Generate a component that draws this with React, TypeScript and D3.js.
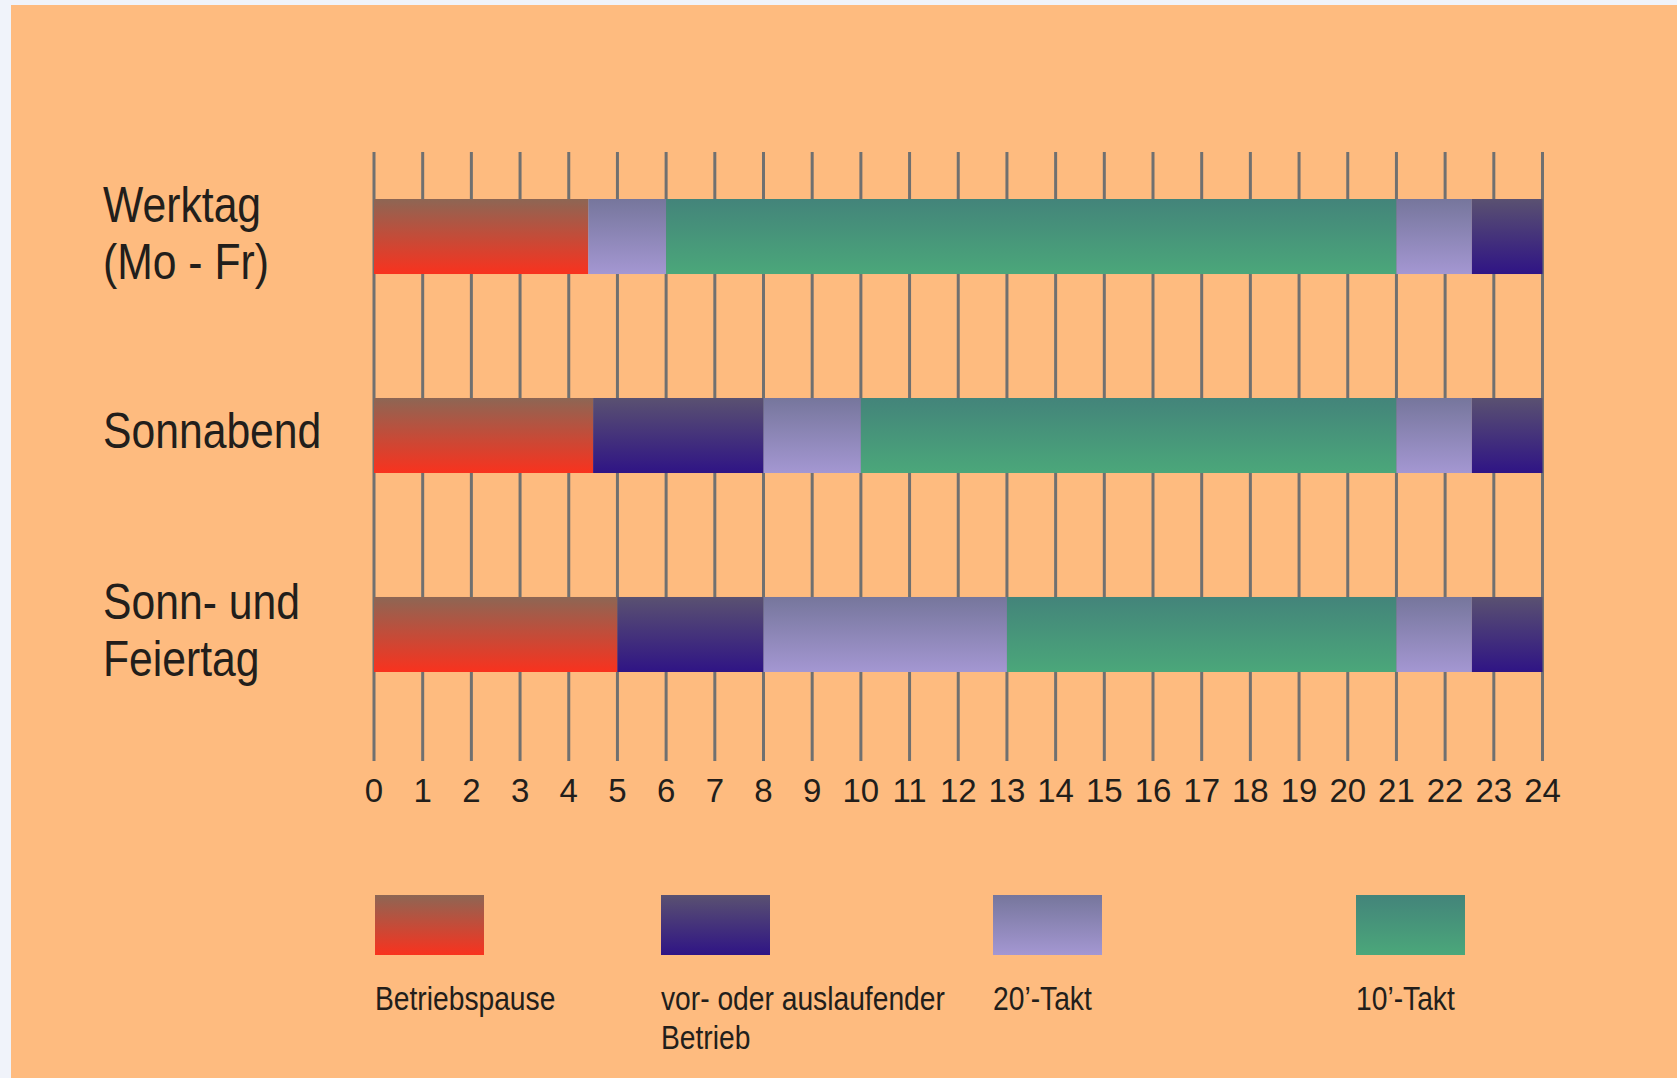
import React from "react";
import { scaleLinear, scaleBand, range } from "d3";

// hours on the time axis
const hours = range(0, 25);

// the three kinds of day
const dayKeys = ["werktag", "sonnabend", "sonntag"];
const dayLabels = [["Werktag", "(Mo - Fr)"], ["Sonnabend"], ["Sonn- und", "Feiertag"]];

// service kinds (legend)
const kindNames = [["Betriebspause"], ["vor- oder auslaufender", "Betrieb"], ["20\u2019-Takt"], ["10\u2019-Takt"]];
const kindTop = ["#8d6654", "#5a5171", "#76769c", "#43847a"];
const kindBottom = ["#f9321e", "#2f1485", "#a497d2", "#4ba77a"];

// time breaks per day and the kind between two breaks
const werktagBreaks = [0, 4.4, 6, 21, 22.55, 24];
const werktagKinds = [0, 2, 3, 2, 1];
const sonnabendBreaks = [0, 4.5, 8, 10, 21, 22.55, 24];
const sonnabendKinds = [0, 1, 2, 3, 2, 1];
const sonntagBreaks = [0, 5, 8, 13, 21, 22.55, 24];
const sonntagKinds = [0, 1, 2, 3, 2, 1];

const breaksByDay = [werktagBreaks, sonnabendBreaks, sonntagBreaks];
const kindsByDay = [werktagKinds, sonnabendKinds, sonntagKinds];

const W = 1677;
const H = 1078;
const textColor = "#221e1b";
const legendX = [375, 661, 993, 1356];

export default function App() {
  const x = scaleLinear().domain([0, 24]).range([374, 1542.5]);
  const y = scaleBand().domain(dayKeys).range([199, 672]).paddingInner(0.623).paddingOuter(0);
  const bw = y.bandwidth();

  return (
    <svg
      width={W}
      height={H}
      style={{ position: "absolute", left: 0, top: 0, display: "block" }}
      fontFamily="'Liberation Sans', Arial, sans-serif"
    >
      <defs>
        {kindTop.map((c, i) => (
          <linearGradient key={i} id={`kind${i}`} x1="0" y1="0" x2="0" y2="1">
            <stop offset="0%" stopColor={c} />
            <stop offset="100%" stopColor={kindBottom[i]} />
          </linearGradient>
        ))}
      </defs>
      <rect x={0} y={0} width={W} height={H} fill="#f0f3fa" />
      <rect x={11} y={5} width={W - 11} height={H - 5} fill="#febb7f" />

      {/* hour grid lines */}
      {hours.map((h) => (
        <line key={h} x1={x(h)} x2={x(h)} y1={152} y2={761} stroke="#707070" strokeWidth={3} />
      ))}

      {/* bars */}
      {dayKeys.map((d, di) =>
        kindsByDay[di].map((k, si) => {
          const b = breaksByDay[di];
          return (
            <rect
              key={d + si}
              x={x(b[si])}
              y={y(d)}
              width={x(b[si + 1]) - x(b[si])}
              height={bw}
              fill={`url(#kind${k})`}
            />
          );
        })
      )}

      {/* day labels */}
      {dayKeys.map((d, di) => {
        const lines = dayLabels[di];
        const c = (y(d) as number) + bw / 2;
        const first = lines.length === 1 ? c + 12.5 : c - 15;
        return lines.map((t, li) => (
          <g key={d + li} transform={`translate(103,${first + li * 57}) scale(0.845,1)`}>
            <text fontSize={50.5} fill={textColor}>{t}</text>
          </g>
        ));
      })}

      {/* hour labels */}
      {hours.map((h) => (
        <text key={h} x={x(h)} y={802} fontSize={33} textAnchor="middle" fill={textColor}>
          {h}
        </text>
      ))}

      {/* legend */}
      {kindNames.map((lines, i) => (
        <g key={i}>
          <rect x={legendX[i]} y={895} width={109} height={60} fill={`url(#kind${i})`} />
          {lines.map((t, li) => (
            <g key={li} transform={`translate(${legendX[i]},${1010 + li * 39}) scale(0.83,1)`}>
              <text fontSize={34} fill={textColor}>{t}</text>
            </g>
          ))}
        </g>
      ))}
    </svg>
  );
}
